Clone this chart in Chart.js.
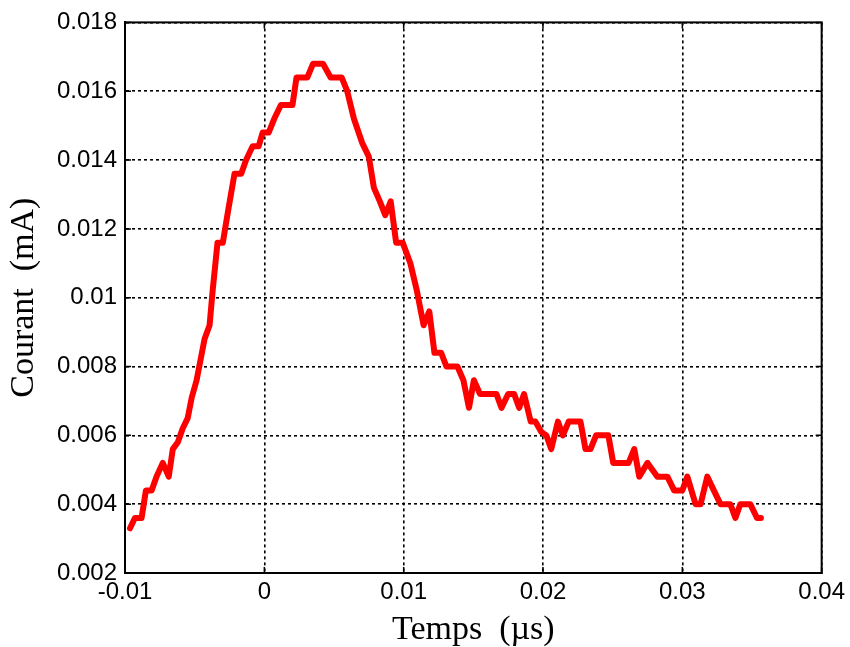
<!DOCTYPE html>
<html>
<head>
<meta charset="utf-8">
<script src="https://cdn.jsdelivr.net/npm/chart.js@4.4.1/dist/chart.umd.min.js"></script>
<style>
  html, body { margin: 0; padding: 0; background: #ffffff; }
  canvas { display: block; }
</style>
</head>
<body>
<canvas id="c" width="850" height="647"></canvas>
<script>
// Time (µs)
const times = [
  -0.00964, -0.00929, -0.00881, -0.00850, -0.00809, -0.00774, -0.00729, -0.00686, -0.00657, -0.00621,
  -0.00586, -0.00550, -0.00521, -0.00486, -0.00429, -0.00393, -0.00371, -0.00336, -0.00298, -0.00257,
  -0.00214, -0.00166, -0.00131, -0.00084, -0.00041, -0.00012, 0.00031, 0.00071, 0.00119, 0.00202,
  0.00231, 0.00309, 0.00350, 0.00421, 0.00476, 0.00555, 0.00595, 0.00643, 0.00702, 0.00750,
  0.00786, 0.00829, 0.00868, 0.00907, 0.00946, 0.00993, 0.01048, 0.01095, 0.01143, 0.01184,
  0.01221, 0.01269, 0.01307, 0.01386, 0.01429, 0.01469, 0.01504, 0.01548, 0.01666, 0.01702,
  0.01750, 0.01793, 0.01829, 0.01864, 0.01912, 0.01945, 0.01988, 0.02024, 0.02059, 0.02107,
  0.02143, 0.02184, 0.02269, 0.02305, 0.02341, 0.02381, 0.02469, 0.02504, 0.02614, 0.02655,
  0.02691, 0.02750, 0.02821, 0.02893, 0.02941, 0.03000, 0.03036, 0.03095, 0.03131, 0.03179,
  0.03226, 0.03274, 0.03345, 0.03381, 0.03416, 0.03488, 0.03536, 0.03564
];
// Current (mA)
const courant = [
  0.0033, 0.0036, 0.0036, 0.0044, 0.0044, 0.0048, 0.0052, 0.0048, 0.0056, 0.0058,
  0.0062, 0.0065, 0.0071, 0.0076, 0.0088, 0.0092, 0.0102, 0.0116, 0.0116, 0.0126,
  0.0136, 0.0136, 0.0140, 0.0144, 0.0144, 0.0148, 0.0148, 0.0152, 0.0156, 0.0156,
  0.0164, 0.0164, 0.0168, 0.0168, 0.0164, 0.0164, 0.0160, 0.0152, 0.0145, 0.0141,
  0.0132, 0.0128, 0.0124, 0.0128, 0.0116, 0.0116, 0.0110, 0.0102, 0.0092, 0.0096,
  0.0084, 0.0084, 0.0080, 0.0080, 0.0076, 0.0068, 0.0076, 0.0072, 0.0072, 0.0068,
  0.0072, 0.0072, 0.0068, 0.0072, 0.0064, 0.0064, 0.0061, 0.0060, 0.0056, 0.0064,
  0.0060, 0.0064, 0.0064, 0.0056, 0.0056, 0.0060, 0.0060, 0.0052, 0.0052, 0.0056,
  0.0048, 0.0052, 0.0048, 0.0048, 0.0044, 0.0044, 0.0048, 0.0040, 0.0040, 0.0048,
  0.0044, 0.0040, 0.0040, 0.0036, 0.0040, 0.0040, 0.0036, 0.0036
];
// Axis ticks
const xTicks = [-0.01, 0, 0.01, 0.02, 0.03, 0.04];
const yTicks = [0.002, 0.004, 0.006, 0.008, 0.01, 0.012, 0.014, 0.016, 0.018];
const xTitle = 'Temps  (\u00b5s)';
const yTitle = 'Courant  (mA)';

const points = times.map((t, i) => ({ x: t, y: courant[i] }));
const fmt = v => String(parseFloat(Number(v).toFixed(4)));

const boxPlugin = {
  id: 'box',
  afterDraw(chart) {
    const { ctx, chartArea: a, scales } = chart;
    ctx.save();
    ctx.strokeStyle = '#000';
    ctx.lineWidth = 1.5;
    ctx.beginPath();
    const L = 6;
    xTicks.forEach(v => {
      const px = scales.x.getPixelForValue(v);
      ctx.moveTo(px, a.bottom); ctx.lineTo(px, a.bottom - L);
      ctx.moveTo(px, a.top); ctx.lineTo(px, a.top + L);
    });
    yTicks.forEach(v => {
      const py = scales.y.getPixelForValue(v);
      ctx.moveTo(a.left, py); ctx.lineTo(a.left + L, py);
      ctx.moveTo(a.right, py); ctx.lineTo(a.right - L, py);
    });
    ctx.stroke();
    ctx.lineWidth = 2;
    ctx.strokeRect(a.left, a.top, a.right - a.left, a.bottom - a.top);
    ctx.restore();
  }
};

new Chart(document.getElementById('c'), {
  type: 'scatter',
  data: {
    datasets: [{
      data: points,
      showLine: true,
      borderColor: '#ff0000',
      backgroundColor: '#ff0000',
      borderWidth: 6,
      pointRadius: 0,
      borderJoinStyle: 'round',
      borderCapStyle: 'round',
      tension: 0
    }]
  },
  options: {
    responsive: false,
    animation: false,
    devicePixelRatio: 1,
    layout: { padding: { left: 0, right: 28, top: 22, bottom: 0 } },
    plugins: { legend: { display: false }, tooltip: { enabled: false } },
    scales: {
      x: {
        type: 'linear',
        min: -0.01, max: 0.04,
        afterBuildTicks: s => { s.ticks = xTicks.map(v => ({ value: v })); },
        afterFit: s => { s.height = 74; },
        grid: { color: '#000', lineWidth: 1.6, drawTicks: false },
        border: { display: true, color: '#000', width: 2, dash: [3, 3] },
        ticks: {
          color: '#000', padding: 5, maxRotation: 0, autoSkip: false,
          font: { family: '"Liberation Sans", Arial, sans-serif', size: 24 },
          callback: v => fmt(v)
        },
        title: {
          display: true, text: xTitle, color: '#000',
          font: { family: '"Liberation Serif", "Times New Roman", serif', size: 34, lineHeight: 1 },
          padding: { top: 0, bottom: 0 }
        }
      },
      y: {
        type: 'linear',
        min: 0.002, max: 0.018,
        afterBuildTicks: s => { s.ticks = yTicks.map(v => ({ value: v })); },
        afterFit: s => { s.width = 125; },
        grid: { color: '#000', lineWidth: 1.6, drawTicks: false },
        border: { display: true, color: '#000', width: 2, dash: [3, 3] },
        ticks: {
          color: '#000', padding: 8, autoSkip: false,
          font: { family: '"Liberation Sans", Arial, sans-serif', size: 24 },
          callback: v => fmt(v)
        },
        title: {
          display: true, text: yTitle, color: '#000',
          font: { family: '"Liberation Serif", "Times New Roman", serif', size: 34, lineHeight: 1 },
          padding: { top: 7, bottom: 0 }
        }
      }
    }
  },
  plugins: [boxPlugin]
});
</script>
</body>
</html>
